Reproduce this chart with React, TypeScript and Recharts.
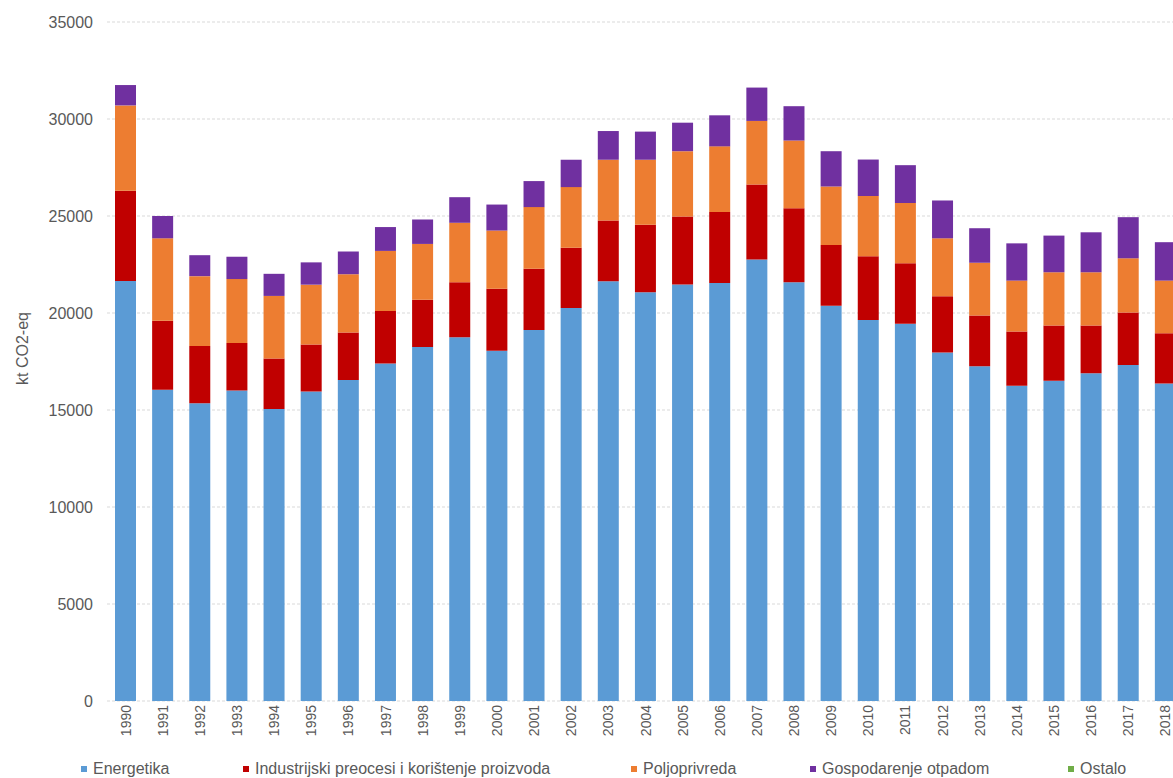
import React from 'react';
import { BarChart, Bar, XAxis, YAxis, CartesianGrid, Legend } from 'recharts';

const years = [
  '1990', '1991', '1992', '1993', '1994', '1995', '1996', '1997', '1998', '1999',
  '2000', '2001', '2002', '2003', '2004', '2005', '2006', '2007', '2008', '2009',
  '2010', '2011', '2012', '2013', '2014', '2015', '2016', '2017', '2018',
];

// kt CO2-eq po sektorima
const energetika = [
  21650, 16050, 15350, 16000, 15050, 15950, 16550, 17400, 18250, 18750,
  18050, 19130, 20260, 21640, 21070, 21470, 21550, 22760, 21580, 20380,
  19640, 19440, 17970, 17250, 16250, 16510, 16890, 17320, 16370,
];
const industrija = [
  4650, 3550, 2950, 2450, 2600, 2430, 2450, 2700, 2430, 2830,
  3200, 3150, 3100, 3130, 3480, 3500, 3650, 3870, 3820, 3130,
  3290, 3130, 2890, 2620, 2800, 2840, 2460, 2710, 2580,
];
const poljoprivreda = [
  4400, 4250, 3600, 3300, 3230, 3080, 3000, 3100, 2880, 3070,
  3000, 3180, 3130, 3130, 3350, 3370, 3390, 3270, 3490, 3010,
  3100, 3100, 2990, 2720, 2620, 2750, 2750, 2790, 2720,
];
const otpad = [
  1050, 1150, 1080, 1150, 1140, 1150, 1170, 1230, 1260, 1320,
  1340, 1340, 1410, 1480, 1450, 1470, 1600, 1720, 1770, 1820,
  1880, 1950, 1950, 1780, 1920, 1890, 2060, 2120, 1980,
];
const ostalo = [
  0, 0, 0, 0, 0, 0, 0, 0, 0, 0,
  0, 0, 0, 0, 0, 0, 0, 0, 0, 0,
  0, 0, 0, 0, 0, 0, 0, 0, 0,
];

const yTicks = [0, 5000, 10000, 15000, 20000, 25000, 30000, 35000];

const data = years.map((year, i) => ({
  year,
  energetika: energetika[i],
  industrija: industrija[i],
  poljoprivreda: poljoprivreda[i],
  otpad: otpad[i],
  ostalo: ostalo[i],
}));

const FONT = '"Liberation Sans", Arial, sans-serif';
const TEXT = '#595959';

// where each legend entry starts, as in the original Excel legend
const legendX: Record<string, number> = {
  energetika: 81,
  industrija: 243,
  poljoprivreda: 631,
  otpad: 810,
  ostalo: 1068,
};

const YearTick = (props: any) => {
  const { x, y, payload } = props;
  return (
    <g transform={`translate(${x},${y})`}>
      <text
        x={0}
        y={0}
        dy={5}
        textAnchor="end"
        transform="rotate(-90)"
        fontSize={14}
        fontFamily={FONT}
        fill={TEXT}
      >
        {payload.value}
      </text>
    </g>
  );
};

const YLabel = (props: any) => {
  const { viewBox } = props;
  const cx = viewBox.x + 22;
  const cy = viewBox.y + viewBox.height / 2 - 13;
  return (
    <text
      x={cx}
      y={cy}
      transform={`rotate(-90 ${cx} ${cy})`}
      textAnchor="middle"
      dominantBaseline="central"
      fontSize={16}
      fontFamily={FONT}
      fill={TEXT}
    >
      kt CO2-eq
    </text>
  );
};

const LegendContent = (props: any) => {
  const { payload } = props;
  return (
    <div style={{ position: 'relative', width: 1173, height: 18 }}>
      {(payload || []).map((entry: any) => (
        <div
          key={entry.dataKey}
          style={{
            position: 'absolute',
            left: legendX[entry.dataKey] ?? 0,
            top: 0,
            display: 'flex',
            alignItems: 'center',
            whiteSpace: 'nowrap',
          }}
        >
          <span
            style={{
              display: 'inline-block',
              width: 6,
              height: 6,
              background: entry.color,
              marginRight: 6,
            }}
          />
          <span style={{ fontSize: 16, lineHeight: '16px', color: TEXT, fontFamily: FONT }}>
            {entry.value}
          </span>
        </div>
      ))}
    </div>
  );
};

export default function App() {
  return (
    <div
      style={{
        position: 'absolute',
        left: 0,
        top: 0,
        width: 1173,
        height: 778,
        overflow: 'hidden',
        background: '#ffffff',
        fontFamily: FONT,
      }}
    >
      <BarChart
        width={1184}
        height={778}
        data={data}
        margin={{ top: 22, right: 0, left: 0, bottom: 0 }}
        barSize={21}
      >
        <CartesianGrid vertical={false} stroke="#d9d9d9" strokeDasharray="3 2" />
        <XAxis
          dataKey="year"
          interval={0}
          height={77}
          tickLine={false}
          axisLine={false}
          tickSize={0}
          tickMargin={4}
          tick={<YearTick />}
        />
        <YAxis
          width={107}
          domain={[0, 35000]}
          ticks={yTicks}
          tickLine={false}
          axisLine={false}
          tickSize={0}
          tickMargin={14}
          tick={{ fontSize: 16, fill: TEXT, fontFamily: FONT }}
          label={{ content: <YLabel /> }}
        />
        <Legend
          layout="horizontal"
          verticalAlign="middle"
          align="center"
          wrapperStyle={{ top: 761, left: 0, width: 1173, height: 18 }}
          content={<LegendContent />}
        />
        <Bar dataKey="energetika" name="Energetika" stackId="a" fill="#5b9bd5" isAnimationActive={false} />
        <Bar dataKey="industrija" name="Industrijski preocesi i korištenje proizvoda" stackId="a" fill="#c00000" isAnimationActive={false} />
        <Bar dataKey="poljoprivreda" name="Poljoprivreda" stackId="a" fill="#ed7d31" isAnimationActive={false} />
        <Bar dataKey="otpad" name="Gospodarenje otpadom" stackId="a" fill="#7030a0" isAnimationActive={false} />
        <Bar dataKey="ostalo" name="Ostalo" stackId="a" fill="#70ad47" isAnimationActive={false} />
      </BarChart>
    </div>
  );
}
